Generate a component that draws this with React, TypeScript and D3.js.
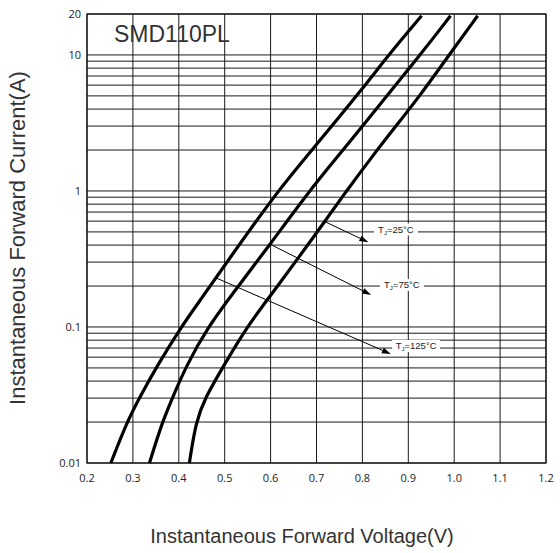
import React from "react";
import * as d3 from "d3";

const W = 560;
const H = 553;

const xTicks = [0.2, 0.3, 0.4, 0.5, 0.6, 0.7, 0.8, 0.9, 1.0, 1.1, 1.2];
const yTickLabels = [
  { v: 20, t: "20" },
  { v: 10, t: "10" },
  { v: 1, t: "1" },
  { v: 0.1, t: "0.1" },
  { v: 0.01, t: "0.01" },
];

// Curve data: [voltage V, current A]
const curve25: [number, number][] = [
  [0.252, 0.01], [0.287, 0.02], [0.314, 0.03], [0.35, 0.05], [0.405, 0.1],
  [0.447, 0.158], [0.505, 0.3], [0.615, 1], [0.7, 2.19],
  [0.8, 5.62], [0.857, 10], [0.929, 19.4],
];
const curve75: [number, number][] = [
  [0.336, 0.01], [0.364, 0.02], [0.386, 0.03], [0.414, 0.05], [0.463, 0.1],
  [0.53, 0.2], [0.6, 0.41], [0.684, 1], [0.758, 2], [0.8, 3],
  [0.926, 10], [0.992, 19.4],
];
const curve125: [number, number][] = [
  [0.423, 0.01], [0.437, 0.02], [0.457, 0.03], [0.495, 0.05], [0.548, 0.1],
  [0.6, 0.17], [0.702, 0.5], [0.765, 1], [0.832, 2], [0.873, 3],
  [0.925, 5], [0.989, 10], [1.051, 19.4],
];
const curves = [curve25, curve75, curve125];

// Annotations: label temperature, arrow start, arrow end, label center (data units)
const annoTemps = ["25", "75", "125"];
const annoStart: [number, number][] = [[0.7185, 0.594], [0.602, 0.401], [0.483, 0.228]];
const annoEnd: [number, number][] = [[0.813, 0.42], [0.819, 0.172], [0.862, 0.0633]];
const annoLabel: [number, number][] = [[0.873, 0.521], [0.886, 0.204], [0.917, 0.0725]];

const gridMinor: number[] = [];
for (const dec of [0.01, 0.1, 1]) {
  for (let k = 1; k <= 9; k++) gridMinor.push(dec * k);
}
gridMinor.push(10, 20);

export default function App() {
  const left = 87, right = 546, top = 14, bottom = 463;
  const x = d3.scaleLinear().domain([0.2, 1.2]).range([left, right]);
  const y = d3.scaleLog().domain([0.01, 20]).range([bottom, top]);
  const line = d3
    .line<[number, number]>()
    .x((d) => x(d[0]))
    .y((d) => y(d[1]))
    .curve(d3.curveBasis);

  const tickFont = "'Open Sans', 'DejaVu Sans', sans-serif";
  const titleFont = "'Liberation Sans', Arial, sans-serif";

  return (
    <svg width={W} height={H} style={{ position: "absolute", left: 0, top: 0 }}>
      <rect x={0} y={0} width={W} height={H} fill="#fff" />
      {/* horizontal grid */}
      {gridMinor.map((v, i) => (
        <line key={"h" + i} x1={left} x2={right} y1={y(v)} y2={y(v)} stroke="#1a1a1a" strokeWidth={1} />
      ))}
      {/* vertical grid */}
      {xTicks.map((v, i) => (
        <line key={"v" + i} x1={x(v)} x2={x(v)} y1={top} y2={bottom} stroke="#1a1a1a" strokeWidth={1} />
      ))}
      <rect x={left} y={top} width={right - left} height={bottom - top} fill="none" stroke="#111" strokeWidth={1.2} />

      {/* annotation label boxes */}
      {annoTemps.map((t, i) => {
        const cx = x(annoLabel[i][0]);
        const cy = y(annoLabel[i][1]);
        const w = t.length === 3 ? 48 : 44;
        return (
          <g key={"a" + i}>
            <rect x={cx - w / 2} y={cy - 6} width={w} height={12} fill="#fff" />
            <text x={cx} y={cy + 3.5} textAnchor="middle" fontFamily={titleFont} fontSize={9.5} fill="#222">
              T<tspan fontSize={6} dy={2}>J</tspan>
              <tspan dy={-2}>={t}°C</tspan>
            </text>
          </g>
        );
      })}

      {/* curves */}
      {curves.map((c, i) => (
        <path key={"c" + i} d={line(c) || ""} fill="none" stroke="#000" strokeWidth={3.2} strokeLinecap="butt" />
      ))}

      {/* arrows */}
      {annoTemps.map((t, i) => {
        const x1 = x(annoStart[i][0]), y1 = y(annoStart[i][1]);
        const x2 = x(annoEnd[i][0]), y2 = y(annoEnd[i][1]);
        const ang = Math.atan2(y2 - y1, x2 - x1);
        const L = 9, Wd = 3;
        const bx = x2 - L * Math.cos(ang), by = y2 - L * Math.sin(ang);
        const px = -Math.sin(ang) * Wd, py = Math.cos(ang) * Wd;
        return (
          <g key={"ar" + i}>
            <line x1={x1} y1={y1} x2={bx} y2={by} stroke="#000" strokeWidth={1} />
            <polygon points={`${x2},${y2} ${bx + px},${by + py} ${bx - px},${by - py}`} fill="#000" />
          </g>
        );
      })}

      {/* title */}
      <text x={114} y={42} fontFamily={titleFont} fontSize={23} fill="#333">SMD110PL</text>

      {/* y tick labels */}
      {yTickLabels.map((d, i) => (
        <text key={"yt" + i} x={81} y={y(d.v) + 4} textAnchor="end" fontFamily={tickFont} fontSize={11} fill="#222">
          {d.t}
        </text>
      ))}
      {/* x tick labels */}
      {xTicks.map((v, i) => (
        <text key={"xt" + i} x={x(v)} y={482} textAnchor="middle" fontFamily={tickFont} fontSize={11} fill="#222">
          {v.toFixed(1)}
        </text>
      ))}

      {/* axis titles */}
      <text x={302} y={543} textAnchor="middle" fontFamily={titleFont} fontSize={20} fill="#333">
        Instantaneous Forward Voltage(V)
      </text>
      <text
        transform={`translate(25, 238) rotate(-90)`}
        textAnchor="middle"
        fontFamily={titleFont}
        fontSize={22}
        fill="#333"
      >
        Instantaneous Forward Current(A)
      </text>
    </svg>
  );
}
